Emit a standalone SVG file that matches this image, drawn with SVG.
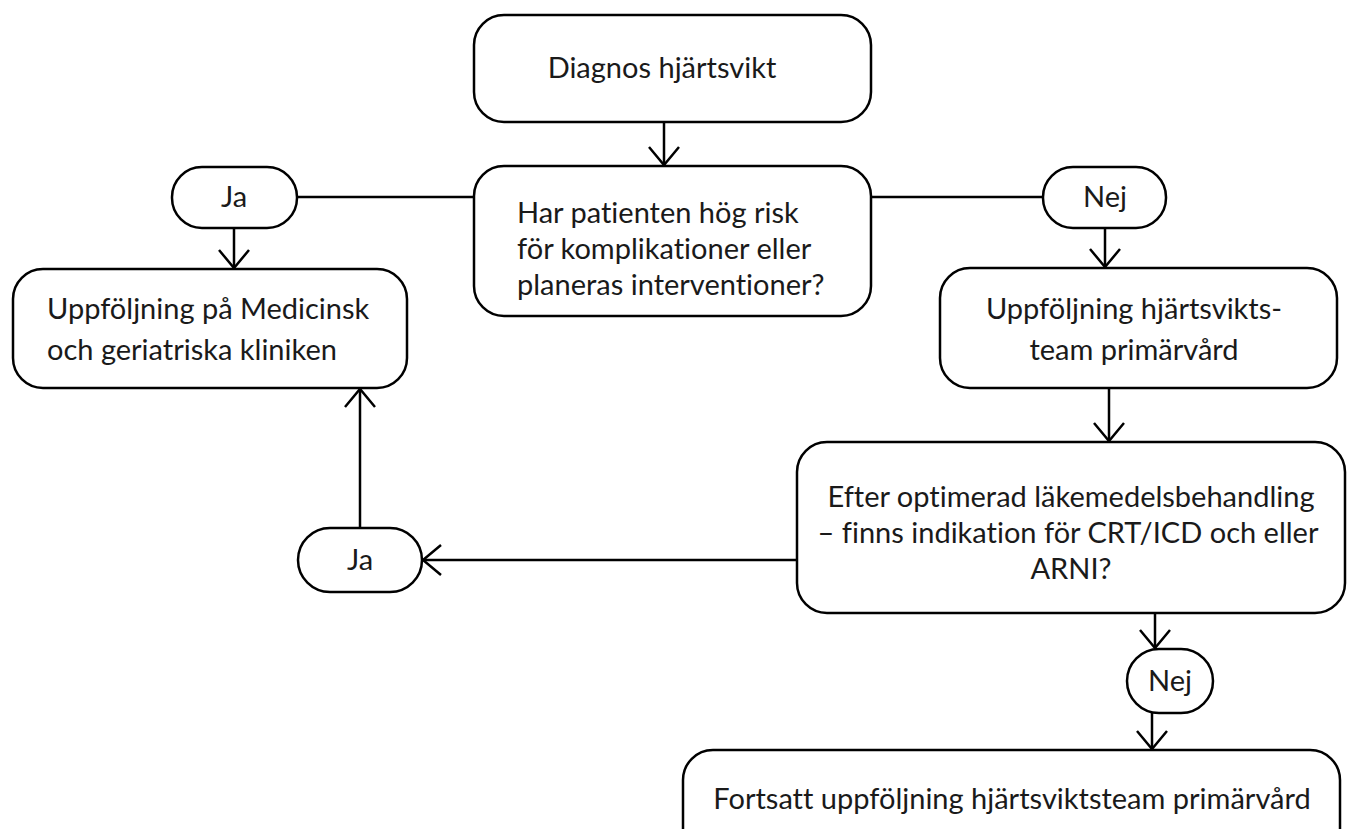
<svg xmlns="http://www.w3.org/2000/svg" width="1347" height="829" viewBox="0 0 1347 829">
<style>
.n{fill:#fff;stroke:#000;stroke-width:2.5}
.t{font-family:Lato,"Open Sans","Liberation Sans",sans-serif;font-size:29px;fill:#1a1a1a;font-variant-ligatures:none}
.c{text-anchor:middle}
.e{fill:none;stroke:#000;stroke-width:2.5}
</style>
<defs>
<marker id="ah" markerUnits="userSpaceOnUse" viewBox="-20 -17 22 34" markerWidth="22" markerHeight="34" refX="0" refY="0" orient="auto">
<path d="M-18,-15 L0,0 L-18,15" fill="none" stroke="#000" stroke-width="2.5"/>
</marker>
</defs>
<rect width="1347" height="829" fill="#fff"/>
<g id="connectors">
<line class="e" x1="664" y1="122" x2="664" y2="165" marker-end="url(#ah)"/>
<line class="e" x1="297" y1="197" x2="474" y2="197"/>
<line class="e" x1="871" y1="197" x2="1043" y2="197"/>
<line class="e" x1="234" y1="228" x2="234" y2="268" marker-end="url(#ah)"/>
<line class="e" x1="1105" y1="228" x2="1105" y2="267" marker-end="url(#ah)"/>
<line class="e" x1="1109" y1="388" x2="1109" y2="441" marker-end="url(#ah)"/>
<line class="e" x1="797" y1="560" x2="423" y2="560" marker-end="url(#ah)"/>
<line class="e" x1="360" y1="528" x2="360" y2="389" marker-end="url(#ah)"/>
<line class="e" x1="1155" y1="613" x2="1155" y2="648" marker-end="url(#ah)"/>
<line class="e" x1="1152" y1="713" x2="1152" y2="749" marker-end="url(#ah)"/>
</g>
<g id="diagnos">
<rect class="n" x="474" y="15" width="397" height="107" rx="30"/>
<text class="t c" x="662" y="78">Diagnos hjärtsvikt</text>
</g>
<g id="fraga1">
<rect class="n" x="474" y="166" width="397" height="150" rx="30"/>
<text class="t" x="517" y="223">Har patienten hög risk</text>
<text class="t" x="517" y="259">för komplikationer eller</text>
<text class="t" x="517" y="295">planeras interventioner?</text>
</g>
<g id="ja1">
<rect class="n" x="172" y="167" width="125" height="61" rx="30"/>
<text class="t c" x="234" y="207">Ja</text>
</g>
<g id="nej1">
<rect class="n" x="1043" y="167" width="123" height="61" rx="30"/>
<text class="t c" x="1105" y="207">Nej</text>
</g>
<g id="medicinsk">
<rect class="n" x="13" y="269" width="394" height="119" rx="30"/>
<text class="t" x="47" y="319">Uppföljning på Medicinsk</text>
<text class="t" x="47" y="360">och geriatriska kliniken</text>
</g>
<g id="primarvard">
<rect class="n" x="940" y="268" width="397" height="120" rx="30"/>
<text class="t c" x="1134" y="319">Uppföljning hjärtsvikts-</text>
<text class="t c" x="1134" y="360">team primärvård</text>
</g>
<g id="fraga2">
<rect class="n" x="797" y="442" width="548" height="171" rx="30"/>
<text class="t c" x="1071" y="507">Efter optimerad läkemedelsbehandling</text>
<text class="t c" x="1068" y="543">– finns indikation för CRT/ICD och eller</text>
<text class="t c" x="1071" y="579">ARNI?</text>
</g>
<g id="ja2">
<rect class="n" x="298" y="528" width="124" height="64" rx="32"/>
<text class="t c" x="360" y="570">Ja</text>
</g>
<g id="nej2">
<rect class="n" x="1127" y="649" width="86" height="64" rx="32"/>
<text class="t c" x="1170" y="691">Nej</text>
</g>
<g id="fortsatt">
<rect class="n" x="683" y="750" width="657" height="110" rx="30"/>
<text class="t c" x="1012" y="809">Fortsatt uppföljning hjärtsviktsteam primärvård</text>
</g>
</svg>
